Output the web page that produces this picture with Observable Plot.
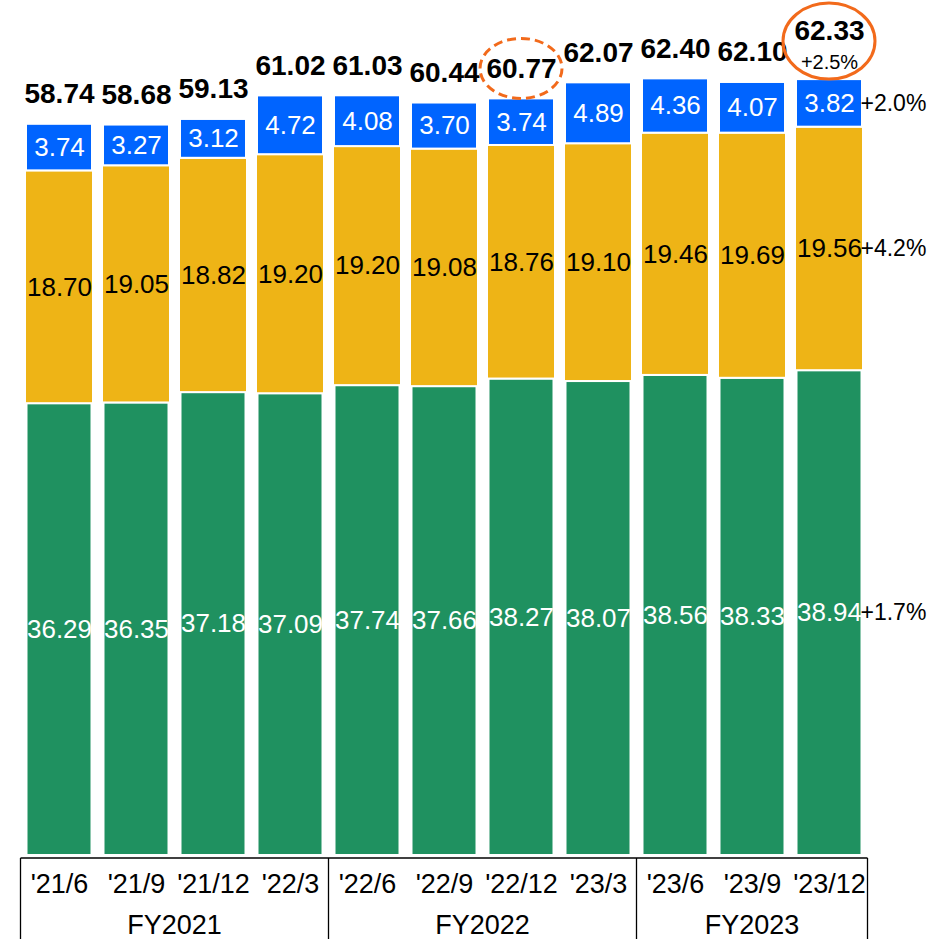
<!DOCTYPE html>
<html>
<head>
<meta charset="utf-8">
<script src="https://cdn.jsdelivr.net/npm/d3@7"></script>
<script src="https://cdn.jsdelivr.net/npm/@observablehq/plot@0.6"></script>
<style>
  html, body { margin: 0; padding: 0; background: #fff; }
  #chart svg { display: block; font-family: "Liberation Sans", Arial, sans-serif; }
</style>
</head>
<body>
<div id="chart"></div>
<script>
// ---- data ----
const categories = ["'21/6", "'21/9", "'21/12", "'22/3", "'22/6", "'22/9", "'22/12", "'23/3", "'23/6", "'23/9", "'23/12"];
const greenValues  = [36.29, 36.35, 37.18, 37.09, 37.74, 37.66, 38.27, 38.07, 38.56, 38.33, 38.94];
const yellowValues = [18.70, 19.05, 18.82, 19.20, 19.20, 19.08, 18.76, 19.10, 19.46, 19.69, 19.56];
const blueValues   = [3.74, 3.27, 3.12, 4.72, 4.08, 3.70, 3.74, 4.89, 4.36, 4.07, 3.82];
const totals       = [58.74, 58.68, 59.13, 61.02, 61.03, 60.44, 60.77, 62.07, 62.40, 62.10, 62.33];
const fiscalYears  = [
  {label: "FY2021", first: "'21/6", last: "'22/3"},
  {label: "FY2022", first: "'22/6", last: "'23/3"},
  {label: "FY2023", first: "'23/6", last: "'23/12"}
];
const growthLabels = {green: "+1.7%", yellow: "+4.2%", blue: "+2.0%", total: "+2.5%"};
const highlightDashed = "'22/12";
const highlightSolid = "'23/12";

const colors = {green: "#1F9160", yellow: "#EEB416", blue: "#0064FF"};
const font = "\"Liberation Sans\", Arial, sans-serif";

// ---- tables ----
const segments = [];
categories.forEach((c, i) => {
  const g = greenValues[i], y = yellowValues[i], b = blueValues[i];
  segments.push({cat: c, part: "green", y1: 0, y2: g, v: g});
  segments.push({cat: c, part: "yellow", y1: g, y2: g + y, v: y});
  segments.push({cat: c, part: "blue", y1: g + y, y2: g + y + b, v: b});
});
const seg = p => segments.filter(d => d.part === p);
const totalRows = categories.map((c, i) => ({cat: c, total: totals[i], top: greenValues[i] + yellowValues[i] + blueValues[i]}));
const lastCat = categories[categories.length - 1];
const lastSegs = segments.filter(d => d.cat === lastCat).map(d => ({...d, mid: (d.y1 + d.y2) / 2, label: growthLabels[d.part]}));

// ---- axis table + highlight ellipses (drawn through the plot scales) ----
function tableMark(index, scales, values, dimensions) {
  const x = scales.x, y = scales.y;
  const bw = x.bandwidth ? x.bandwidth() : 68;
  const step = x.step ? x.step() : 77.4;
  const pad = (step - bw) / 2;
  const g = d3.create("svg:g");
  const base = y(0) + 3;
  const bottom = dimensions.height;
  const left = x(categories[0]) - pad;
  const right = x(lastCat) + bw + pad;
  g.append("line").attr("x1", left).attr("x2", right).attr("y1", base).attr("y2", base)
    .attr("stroke", "#000").attr("stroke-width", 1.3);
  const bounds = [left, ...fiscalYears.map(f => x(f.last) + bw + pad)];
  for (const bx of bounds) {
    g.append("line").attr("x1", bx).attr("x2", bx).attr("y1", base).attr("y2", bottom)
      .attr("stroke", "#000").attr("stroke-width", 1.3);
  }
  for (const f of fiscalYears) {
    const cx = (x(f.first) - pad + x(f.last) + bw + pad) / 2;
    g.append("text").attr("x", cx).attr("y", base + 76).attr("text-anchor", "middle")
      .attr("font-size", 27).attr("font-family", font).attr("fill", "#000").text(f.label);
  }
  // ellipses
  const iD = categories.indexOf(highlightDashed);
  const topD = y(totalRows[iD].top);
  g.append("ellipse").attr("cx", x(highlightDashed) + bw / 2).attr("cy", topD - 30)
    .attr("rx", 41).attr("ry", 30).attr("fill", "none").attr("stroke", "#F26A1B")
    .attr("stroke-width", 3).attr("stroke-dasharray", "9,5");
  const iS = categories.indexOf(highlightSolid);
  const topS = y(totalRows[iS].top);
  g.append("ellipse").attr("cx", x(highlightSolid) + bw / 2).attr("cy", topS - 38)
    .attr("rx", 46).attr("ry", 38).attr("fill", "none").attr("stroke", "#F26A1B")
    .attr("stroke-width", 3);
  return g.node();
}

const yMax = 855 / 12.45;

const plot = Plot.plot({
  width: 943,
  height: 939,
  marginLeft: 18,
  marginRight: 73,
  marginTop: 0,
  marginBottom: 84,
  style: {fontFamily: font, background: "#fff"},
  x: {domain: categories, paddingInner: 0.12, paddingOuter: 0.06, axis: null},
  y: {domain: [0, yMax], axis: null},
  marks: [
    Plot.rectY(seg("green"), {x: "cat", y1: "y1", y2: "y2", fill: colors.green, stroke: "white", strokeWidth: 2, insetLeft: 1.5, insetRight: 1.5}),
    Plot.rectY(seg("yellow"), {x: "cat", y1: "y1", y2: "y2", fill: colors.yellow, stroke: "white", strokeWidth: 2}),
    Plot.rectY(seg("blue"), {x: "cat", y1: "y1", y2: "y2", fill: colors.blue, stroke: "white", strokeWidth: 2, insetLeft: 1, insetRight: 1}),
    // segment values
    Plot.text(seg("green"), {x: "cat", y: d => (d.y1 + d.y2) / 2, text: d => d.v.toFixed(2), fill: "white", fontSize: 26, lineAnchor: "middle"}),
    Plot.text(seg("yellow"), {x: "cat", y: d => (d.y1 + d.y2) / 2, text: d => d.v.toFixed(2), fill: "black", fontSize: 26, lineAnchor: "middle"}),
    Plot.text(seg("blue"), {x: "cat", y: d => (d.y1 + d.y2) / 2, text: d => d.v.toFixed(2), fill: "white", fontSize: 26, lineAnchor: "middle"}),
    // totals
    Plot.text(totalRows.filter(d => d.cat !== lastCat), {x: "cat", y: "top", text: d => d.total.toFixed(2), fontSize: 28, fontWeight: "bold", fill: "black", lineAnchor: "bottom", dy: -21}),
    Plot.text(totalRows.filter(d => d.cat === lastCat), {x: "cat", y: "top", text: d => d.total.toFixed(2), fontSize: 28, fontWeight: "bold", fill: "black", lineAnchor: "bottom", dy: -40}),
    Plot.text(totalRows.filter(d => d.cat === lastCat), {x: "cat", y: "top", text: () => growthLabels.total, fontSize: 20, fill: "black", lineAnchor: "bottom", dy: -11}),
    // growth labels at right
    Plot.text(lastSegs, {x: "cat", y: "mid", text: "label", fontSize: 23, fill: "black", textAnchor: "start", lineAnchor: "middle", dx: 31}),
    // category labels
    Plot.text(categories, {x: d => d, y: 0, text: d => d, fontSize: 27, fill: "black", lineAnchor: "middle", dy: 29}),
    tableMark
  ]
});
document.getElementById("chart").appendChild(plot);
</script>
</body>
</html>
